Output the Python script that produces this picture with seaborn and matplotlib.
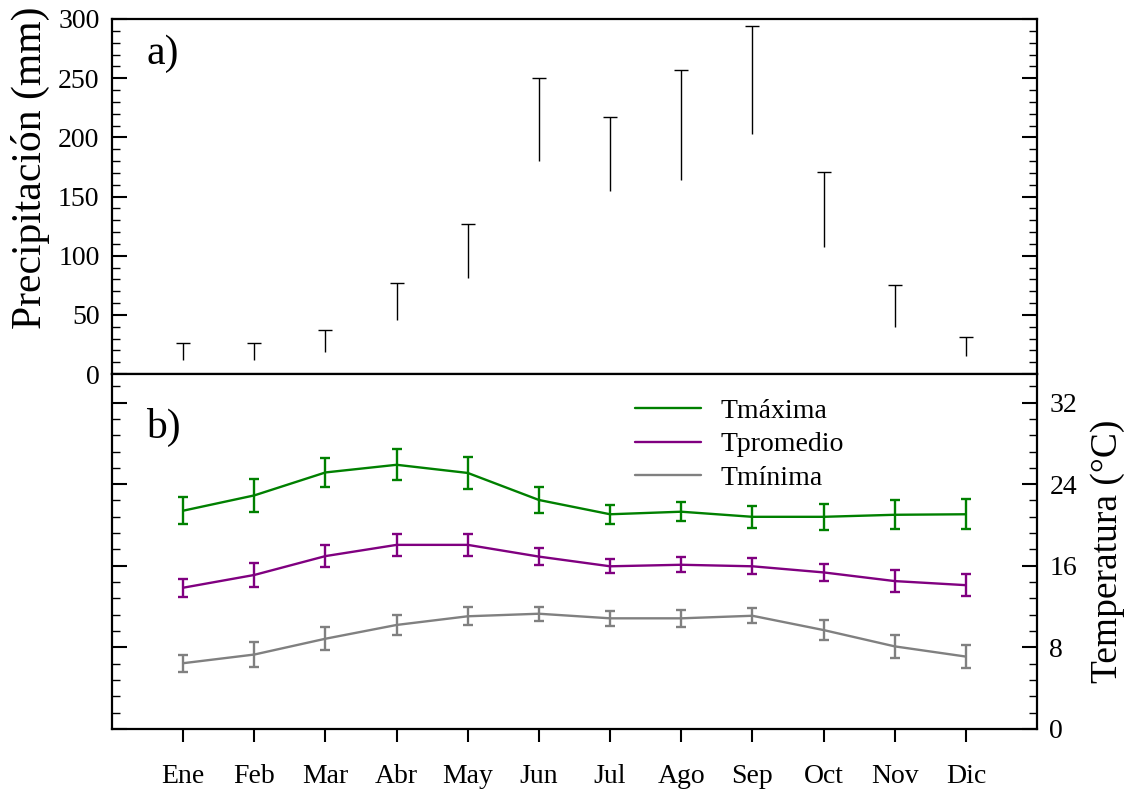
import numpy as np
import pandas as pd
import matplotlib
matplotlib.use("Agg")
import matplotlib.pyplot as plt
from matplotlib.ticker import MultipleLocator
import seaborn as sns

# Monthly climatology
months = ["Ene", "Feb", "Mar", "Abr", "May", "Jun",
          "Jul", "Ago", "Sep", "Oct", "Nov", "Dic"]

# Precipitation (mm): mean and standard deviation (upper bar only)
precip = [12, 12, 19, 46, 81, 180, 155, 164, 203, 107, 40, 15]
precip_sd = [14, 14, 18, 31, 46, 70, 62, 93, 91, 64, 35, 16]

# Temperatures (°C): mean and standard deviation
tmax = [21.4, 22.9, 25.15, 25.9, 25.1, 22.45, 21.05, 21.3, 20.8, 20.8, 21.0, 21.05]
tmax_sd = [1.3, 1.6, 1.4, 1.5, 1.55, 1.25, 0.95, 0.95, 1.1, 1.25, 1.4, 1.45]
tmed = [13.85, 15.1, 16.95, 18.05, 18.05, 16.9, 15.95, 16.1, 15.95, 15.35, 14.5, 14.1]
tmed_sd = [0.9, 1.15, 1.1, 1.1, 1.1, 0.8, 0.7, 0.75, 0.8, 0.85, 1.05, 1.1]
tmin = [6.45, 7.3, 8.85, 10.2, 11.05, 11.3, 10.85, 10.85, 11.1, 9.7, 8.1, 7.1]
tmin_sd = [0.85, 1.2, 1.15, 1.0, 0.9, 0.7, 0.75, 0.85, 0.75, 0.95, 1.1, 1.15]

series_names = ["Tmáxima", "Tpromedio", "Tmínima"]
series_colors = ["#008000", "#800080", "#808080"]

sns.set_style("ticks")
plt.rcParams["font.family"] = ["Liberation Serif", "DejaVu Serif"]
for key in ("text.color", "axes.labelcolor", "xtick.color", "ytick.color", "axes.edgecolor"):
    plt.rcParams[key] = "black"

W, H = 1131, 793
fig = plt.figure(figsize=(W / 100, H / 100), dpi=100)
left, right = 112, 1037
top, mid, bottom = 19, 374, 729
ax1 = fig.add_axes([left / W, 1 - mid / H, (right - left) / W, (mid - top) / H])
ax2 = fig.add_axes([left / W, 1 - bottom / H, (right - left) / W, (bottom - mid) / H])

pos = np.arange(len(months))
TICK_FS = 20

# ---- a) precipitation ----
prec_df = pd.DataFrame({"pos": pos, "mes": months, "pp": precip})
sns.barplot(data=prec_df, x="pos", y="pp", ax=ax1, color="white",
            linewidth=0, native_scale=True, width=0.5, zorder=0)
for p in ax1.patches:
    p.set_alpha(0)
eb = ax1.errorbar(pos, precip, yerr=[np.zeros(len(precip)), precip_sd], fmt="none",
                  ecolor="black", elinewidth=1.0, capsize=5, capthick=1.0)
# keep only the upper cap of each bar
eb.lines[1][0].set_visible(False)

ax1.set_xlim(-1, 12)
ax1.set_ylim(0, 300)
ax1.yaxis.set_major_locator(MultipleLocator(50))
ax1.yaxis.set_minor_locator(MultipleLocator(10))
ax1.set_xticks(pos)
ax1.tick_params(axis="x", which="both", bottom=True, top=False, direction="out",
                length=10, width=1.5, labelbottom=False)
ax1.tick_params(axis="y", which="major", left=True, right=True, direction="in",
                length=11, width=1.5, labelsize=TICK_FS, pad=9)
ax1.tick_params(axis="y", which="minor", left=True, right=True, direction="in",
                length=5.5, width=1.0)
ax1.set_xlabel("")
ax1.set_ylabel("")
fig.text(30 / W, 1 - 168 / H, "Precipitación (mm)", rotation=90, fontsize=30,
         ha="center", va="center")
ax1.text(0.037, 0.955, "a)", transform=ax1.transAxes, fontsize=30, va="top")

# ---- b) temperatures ----
temp_df = pd.DataFrame({
    "pos": np.tile(pos, 3),
    "valor": tmax + tmed + tmin,
    "serie": np.repeat(series_names, len(months)),
})
sns.lineplot(data=temp_df, x="pos", y="valor", hue="serie", ax=ax2,
             palette=dict(zip(series_names, series_colors)), linewidth=1.7,
             hue_order=series_names)
for vals, sds, col in zip([tmax, tmed, tmin], [tmax_sd, tmed_sd, tmin_sd], series_colors):
    ax2.errorbar(pos, vals, yerr=sds, fmt="none", ecolor=col, elinewidth=1.7,
                 capsize=3.5, capthick=1.7)

ax2.set_xlim(-1, 12)
ax2.set_ylim(0, 34.8)
ax2.set_xticks(pos)
ax2.set_xticklabels(months)
ax2.yaxis.set_major_locator(MultipleLocator(8))
ax2.yaxis.set_minor_locator(MultipleLocator(1.6))
ax2.tick_params(axis="x", which="both", bottom=True, top=False, direction="out",
                length=9.5, width=1.5, labelsize=TICK_FS, pad=16)
ax2.tick_params(axis="y", which="major", left=True, right=True, direction="in",
                length=11, width=1.5, labelsize=TICK_FS, pad=9,
                labelleft=False, labelright=True)
ax2.tick_params(axis="y", which="minor", left=True, right=True, direction="in",
                length=5.5, width=1.0)
ax2.set_xlabel("")
ax2.set_ylabel("")
fig.text(1108 / W, 1 - 551 / H, "Temperatura (°C)", rotation=90, fontsize=27,
         ha="center", va="center")
ax2.text(0.037, 0.905, "b)", transform=ax2.transAxes, fontsize=30, va="top")

handles, labels = ax2.get_legend_handles_labels()
ax2.legend(handles[:3], labels[:3], frameon=False, fontsize=20, loc="upper left",
           bbox_to_anchor=(0.544, 0.985), handlelength=2.4, handletextpad=0.7,
           labelspacing=0.28, borderaxespad=0.3)

for ax in (ax1, ax2):
    for s in ax.spines.values():
        s.set_visible(True)
        s.set_linewidth(1.6)
        s.set_color("black")

fig.savefig("out.png", dpi=100)
